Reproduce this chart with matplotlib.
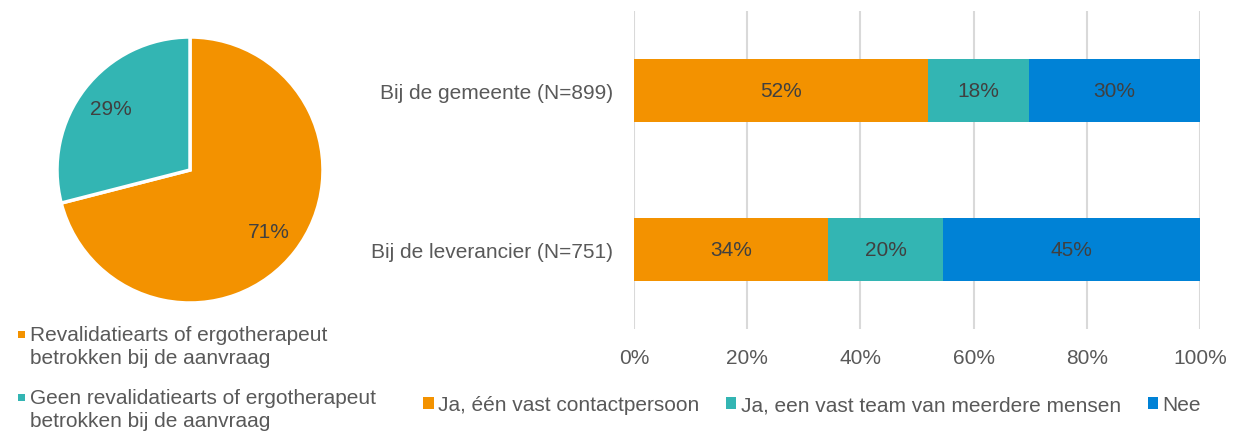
import numpy as np
import matplotlib
matplotlib.use('Agg')
from matplotlib import pyplot as plt
from matplotlib.patches import Rectangle

plt.rcParams['font.family'] = ['Liberation Sans', 'DejaVu Sans']

# pie data
pie_labels = ['Revalidatiearts of ergotherapeut\nbetrokken bij de aanvraag',
              'Geen revalidatiearts of ergotherapeut\nbetrokken bij de aanvraag']
pie_values = [71, 29]

# stacked bar data
groups = ['Bij de leverancier (N=751)', 'Bij de gemeente (N=899)']
series = ['Ja, één vast contactpersoon', 'Ja, een vast team van meerdere mensen', 'Nee']
vast_persoon = [34.3, 51.9]
vast_team = [20.3, 17.9]
nee = [45.4, 30.2]
xticks = [0, 20, 40, 60, 80, 100]

orange = '#F39200'
teal = '#33B5B3'
blue = '#0082D6'
txt = '#404040'
tick_col = '#595959'
fs = 15

fig = plt.figure(figsize=(12.39, 4.35), dpi=100)

# pie
ax1 = fig.add_axes([57/1239, 1-304/435, 266/1239, 266/435])
wedges, _, autotexts = ax1.pie(pie_values, colors=[orange, teal], startangle=90, counterclock=False,
                               autopct='%.0f%%', pctdistance=0.75,
                               wedgeprops=dict(edgecolor='white', linewidth=2.5),
                               textprops=dict(color=txt, fontsize=fs))
ax1.set_xlim(-1.0, 1.0)
ax1.set_ylim(-1.0, 1.0)
ax1.set_aspect('equal')

# pie legend, drawn by hand so the marker sits on the first line
for i, (lab, col) in enumerate(zip(pie_labels, [orange, teal])):
    ytop = 1 - (326 + i*63)/435
    fig.text(30/1239, ytop, lab, ha='left', va='top', fontsize=fs, color=tick_col, linespacing=1.27)
    fig.patches.append(Rectangle((18/1239, ytop - 13/435), 7/1239, 7/435, transform=fig.transFigure,
                                 facecolor=col, edgecolor='none'))

# stacked bars
ax2 = fig.add_axes([634/1239, 1-330/435, 566/1239, 318/435])
y = np.arange(len(groups))
left = np.zeros(len(groups))
handles = []
for vals, col, name in zip([vast_persoon, vast_team, nee], [orange, teal, blue], series):
    vals = np.array(vals)
    b = ax2.barh(y, vals, left=left, height=0.4, color=col, label=name, linewidth=0, zorder=3)
    handles.append(b)
    for yi, l, v in zip(y, left, vals):
        ax2.text(l + v/2, yi, '%.0f%%' % v, ha='center', va='center', color=txt, fontsize=fs, zorder=4)
    left += vals

ax2.set_xlim(0, 100)
ax2.set_ylim(-0.5, 1.5)
ax2.set_xticks(xticks)
ax2.set_xticklabels(['%d%%' % t for t in xticks])
ax2.set_yticks(y)
ax2.set_yticklabels(groups)
ax2.tick_params(length=0, labelsize=fs, labelcolor=tick_col)
ax2.tick_params(axis='y', pad=15)
ax2.tick_params(axis='x', pad=14)
ax2.grid(axis='x', color='#D9D9D9', linewidth=1.5, zorder=0)
for s in ax2.spines.values():
    s.set_visible(False)

leg2 = fig.legend(handles, series, loc='center', bbox_to_anchor=(812/1239, 1-406/435), ncol=3,
                  frameon=False, fontsize=fs, handlelength=0.5, handleheight=0.5,
                  handletextpad=0.2, columnspacing=1.3, borderpad=0, borderaxespad=0)
for t in leg2.get_texts():
    t.set_color(tick_col)

fig.savefig('out.png', dpi=100)
